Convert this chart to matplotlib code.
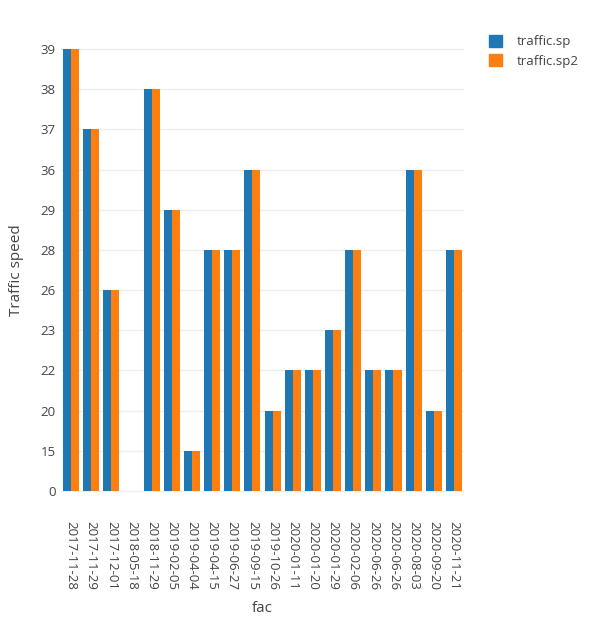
import matplotlib
matplotlib.use("Agg")
import matplotlib.pyplot as plt
from matplotlib.patches import Patch
import numpy as np

plt.rcParams['font.family'] = ['Open Sans', 'DejaVu Sans']

dates = ['2017-11-28', '2017-11-29', '2017-12-01', '2018-05-18', '2018-11-29',
         '2019-02-05', '2019-04-04', '2019-04-15', '2019-06-27', '2019-09-15',
         '2019-10-26', '2020-01-11', '2020-01-20', '2020-01-29', '2020-02-06',
         '2020-06-26', '2020-06-26', '2020-08-03', '2020-09-20', '2020-11-21']
sp = [39, 37, 26, 0, 38, 29, 15, 28, 28, 36, 20, 22, 22, 23, 28, 22, 22, 36, 20, 28]
sp2 = [39, 37, 26, 0, 38, 29, 15, 28, 28, 36, 20, 22, 22, 23, 28, 22, 22, 36, 20, 28]

# y axis is categorical in the original: sorted unique values, evenly spaced
ycats = sorted(set(sp) | set(sp2))
yidx = {v: i for i, v in enumerate(ycats)}

fig = plt.figure(figsize=(5.89, 6.23), dpi=100)
ax = fig.add_axes([61/589, 1 - 511/623, 403/589, 482/623])

x = np.arange(len(dates))
h1 = [yidx[v] for v in sp]
h2 = [yidx[v] for v in sp2]
ax.bar(x - 0.2, h1, width=0.4, color='#1f77b4', zorder=3)
ax.bar(x + 0.2, h2, width=0.4, color='#ff7f0e', zorder=3)

ax.set_xlim(-0.5, len(dates) - 0.5)
ax.set_ylim(-0.5, len(ycats) - 0.5)
ax.set_xticks(x)
ax.set_xticklabels(dates, rotation=-90, fontsize=9.5, color='#444444')
ax.set_yticks(range(len(ycats)))
ax.set_yticklabels([str(v) for v in ycats], fontsize=9.5, color='#444444')
ax.tick_params(axis='both', length=0)
ax.tick_params(axis='x', pad=7)
ax.tick_params(axis='y', pad=4)
ax.grid(axis='y', color='#eeeeee', linewidth=1, zorder=0)
for s in ax.spines.values():
    s.set_visible(False)

ax.set_xlabel('fac', fontsize=11, color='#444444', labelpad=8)
ax.set_ylabel('Traffic speed', fontsize=11, color='#444444', labelpad=12)

handles = [Patch(color='#1f77b4', label='traffic.sp'),
           Patch(color='#ff7f0e', label='traffic.sp2')]
leg = fig.legend(handles=handles, loc='upper left', bbox_to_anchor=(477/589, 1 - 23/623),
                 frameon=False, fontsize=9.5, handlelength=1.0, handleheight=1.0,
                 handletextpad=1.1, labelspacing=0.45)
for t in leg.get_texts():
    t.set_color('#444444')

fig.savefig('out.png', dpi=100)
